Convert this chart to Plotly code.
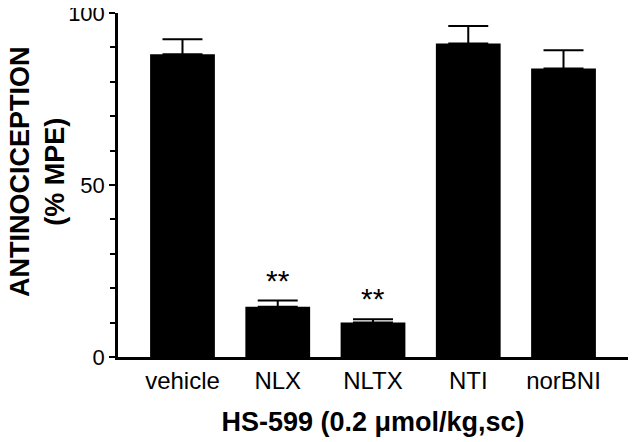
import plotly.graph_objects as go

# Data
groups = ["vehicle", "NLX", "NLTX", "NTI", "norBNI"]
mpe = [88.0, 14.6, 10.0, 91.1, 83.9]
sem = [4.4, 1.8, 1.0, 5.1, 5.3]
signif = ["", "**", "**", "", ""]

font_family = "Liberation Sans, Arial, Helvetica, sans-serif"

fig = go.Figure()

fig.add_trace(go.Bar(
    x=groups,
    y=mpe,
    width=0.68,
    marker=dict(color="black", line=dict(width=0)),
    error_y=dict(
        type="data",
        symmetric=False,
        array=sem,
        arrayminus=[0] * len(sem),
        color="black",
        thickness=2,
        width=20,
    ),
    showlegend=False,
))

# significance marks above the error bars
for g, v, e, s in zip(groups, mpe, sem, signif):
    if s:
        fig.add_annotation(
            x=g, y=v + e, text=s, showarrow=False,
            xref="x", yref="y", yanchor="bottom", yshift=2,
            font=dict(family=font_family, size=30, color="black"),
        )

# y title as an annotation so it can sit a bit above centre like the original
fig.add_annotation(
    text="<b>ANTINOCICEPTION<br>(% MPE)</b>",
    xref="paper", yref="paper", x=0, y=0.538,
    xanchor="center", yanchor="middle", xshift=-80,
    textangle=-90, showarrow=False,
    font=dict(family=font_family, size=27, color="black"),
)

# page body has an 8px margin, so the figure is a bit smaller than the window
fig.update_layout(
    width=632,
    height=434,
    margin=dict(l=110, r=12, t=5, b=85),
    paper_bgcolor="white",
    plot_bgcolor="white",
    font=dict(family=font_family, color="black"),
    bargap=0.32,
)

fig.update_xaxes(
    range=[-0.677, 4.677],
    automargin=False,
    showline=True, linecolor="black", linewidth=2.5,
    ticks="", showgrid=False, zeroline=False,
    tickfont=dict(size=24),
    title=dict(text="<b>HS-599 (0.2 μmol/kg,sc)</b>", font=dict(size=27), standoff=20),
)

fig.update_yaxes(
    range=[0, 100],
    automargin=False,
    ticklabeloverflow="allow",
    tickvals=[0, 50, 100],
    showline=True, linecolor="black", linewidth=2.5,
    ticks="outside", ticklen=6, tickwidth=2, tickcolor="black",
    minor=dict(dtick=10, ticks="outside", ticklen=5, tickwidth=2, tickcolor="black"),
    showgrid=False, zeroline=False,
    tickfont=dict(size=22),
)

fig.write_html("out.html")
